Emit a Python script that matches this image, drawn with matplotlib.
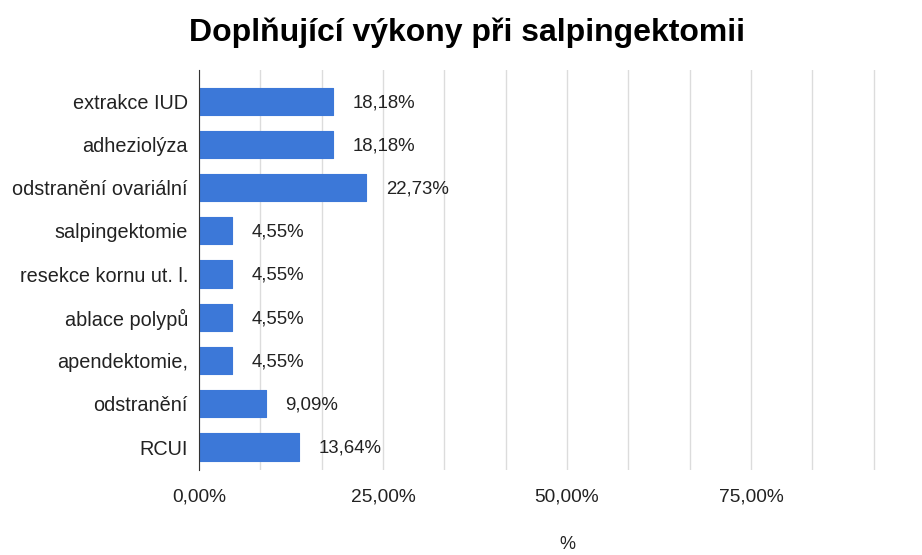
import matplotlib
matplotlib.use("Agg")
import matplotlib.pyplot as plt
import numpy as np

categories = ["extrakce IUD", "adheziolýza", "odstranění ovariální", "salpingektomie",
              "resekce kornu ut. l.", "ablace polypů", "apendektomie,", "odstranění", "RCUI"]
values = [18.18, 18.18, 22.73, 4.55, 4.55, 4.55, 4.55, 9.09, 13.64]
major_ticks = [0, 25, 50, 75]
major_labels = ["0,00%", "25,00%", "50,00%", "75,00%"]

plt.rcParams['font.family'] = ['Liberation Sans', 'DejaVu Sans']

fig = plt.figure(figsize=(9.22, 5.55), dpi=100)
W, H = 922, 555
ax = fig.add_axes([199 / W, (H - 470) / H, 736 / W, 400 / H])

y = np.arange(len(categories))
ax.barh(y, values, height=0.63, color="#3c78d8", edgecolor="#3c78d8", linewidth=0.8,
        joinstyle="round", zorder=3)
for yi, v in zip(y, values):
    ax.annotate(f"{v:.2f}%".replace(".", ","), (v, yi), xytext=(14, -1),
                textcoords="offset points", ha="left", va="center",
                fontsize=13.4, color="#222222")

ax.set_xlim(0, 100)
ax.set_ylim(len(categories) - 0.47, -0.72)
ax.set_yticks(y)
ax.set_yticklabels(categories, fontsize=14.3, color="#222222")
ax.set_xticks(major_ticks)
ax.set_xticklabels(major_labels, fontsize=13.8, color="#222222")
ax.set_xticks(np.arange(0, 100, 25 / 3), minor=True)
ax.tick_params(axis="both", which="both", length=0)
ax.tick_params(axis="x", pad=13)
ax.tick_params(axis="y", pad=8)
ax.grid(axis="x", which="both", color="#dcdcdc", linewidth=1, zorder=0)
for s in ["top", "right", "bottom"]:
    ax.spines[s].set_visible(False)
ax.spines["left"].set_color("#333333")
ax.spines["left"].set_zorder(4)
ax.set_xlabel("%", fontsize=13, color="#222222", labelpad=22)

fig.text(467 / W, 1 - 33 / H, "Doplňující výkony při salpingektomii", ha="center", va="center",
         fontsize=23, fontweight="bold", color="#000000")

fig.savefig("out.png", dpi=100)
